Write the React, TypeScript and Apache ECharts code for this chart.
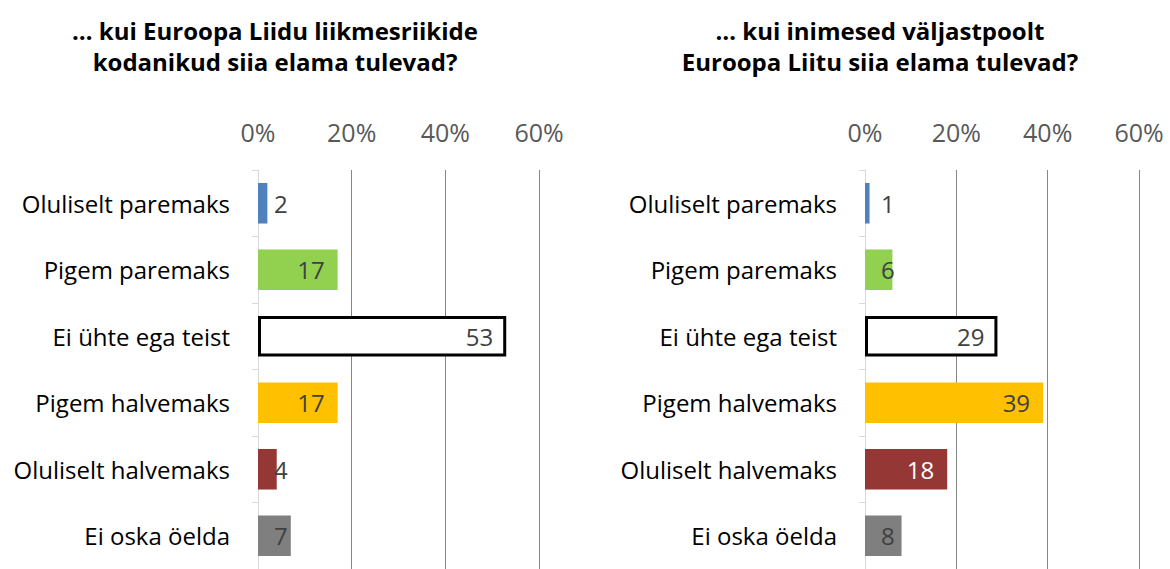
import React, { useEffect, useRef } from "react";
import * as echarts from "echarts";

const categories = [
  "Oluliselt paremaks",
  "Pigem paremaks",
  "Ei ühte ega teist",
  "Pigem halvemaks",
  "Oluliselt halvemaks",
  "Ei oska öelda",
];
const leftValues = [2, 17, 53, 17, 4, 7];
const rightValues = [1, 6, 29, 39, 18, 8];
const barColors = ["#4F81BD", "#92D050", "#FFFFFF", "#FFC000", "#953735", "#7F7F7F"];
const insideLabelColors = ["#404040", "#404040", "#404040", "#404040", "#FFFFFF", "#404040"];
const tickValues = [0, 20, 40, 60];
const leftTitle = "… kui Euroopa Liidu liikmesriikide\nkodanikud siia elama tulevad?";
const rightTitle = "… kui inimesed väljastpoolt\nEuroopa Liitu siia elama tulevad?";

const FONT = "'Open Sans', sans-serif";

function buildData(values: number[]) {
  return values.map((v, i) => {
    const small = v <= 8;
    const isWhite = barColors[i] === "#FFFFFF";
    return {
      value: v,
      itemStyle: {
        color: barColors[i],
        borderColor: isWhite ? "#000000" : barColors[i],
        borderWidth: isWhite ? 3 : 0,
      },
      label: {
        show: true,
        position: small ? "insideLeft" : "insideRight",
        distance: small ? 16 : 13,
        color: small ? "#404040" : insideLabelColors[i],
        fontSize: 24,
        fontFamily: FONT,
      },
    };
  });
}

export default function App() {
  const ref = useRef<HTMLDivElement>(null);
  useEffect(() => {
    document.body.style.margin = "0";
    if (!ref.current) return;
    const chart = echarts.init(ref.current, null, { renderer: "svg" });
    const xAxisCommon = (gridIndex: number) => ({
      type: "value" as const,
      gridIndex,
      position: "top" as const,
      min: 0,
      max: tickValues[tickValues.length - 1],
      interval: tickValues[1] - tickValues[0],
      axisLine: { show: false },
      axisTick: { show: false },
      axisLabel: {
        formatter: "{value}%",
        color: "#595959",
        fontSize: 25,
        fontFamily: FONT,
        margin: 26,
      },
      splitLine: {
        show: true,
        showMinLine: false,
        lineStyle: { color: "#868686", width: 1 },
      },
    });
    const yAxisCommon = (gridIndex: number) => ({
      type: "category" as const,
      gridIndex,
      data: categories,
      inverse: true,
      axisLine: { show: true, lineStyle: { color: "#D9D9D9", width: 1 } },
      axisTick: { show: true, length: 6, lineStyle: { color: "#D9D9D9" } },
      axisLabel: {
        color: "#000000",
        fontSize: 24,
        fontFamily: FONT,
        margin: 28,
      },
    });
    const titleStyle = { fontSize: 24, fontWeight: "bold", color: "#000000", fontFamily: FONT, lineHeight: 31 };
    chart.setOption({
      animation: false,
      backgroundColor: "#FFFFFF",
      title: [
        { text: leftTitle, left: 270, top: 10, textAlign: "center", textStyle: titleStyle },
        { text: rightTitle, left: 875, top: 10, textAlign: "center", textStyle: titleStyle },
      ],
      grid: [
        { left: 258, top: 170, width: 281, height: 403, containLabel: false },
        { left: 865, top: 170, width: 274, height: 403, containLabel: false },
      ],
      xAxis: [xAxisCommon(0), xAxisCommon(1)],
      yAxis: [yAxisCommon(0), yAxisCommon(1)],
      series: [
        { type: "bar", xAxisIndex: 0, yAxisIndex: 0, barCategoryGap: "39%", data: buildData(leftValues) },
        { type: "bar", xAxisIndex: 1, yAxisIndex: 1, barCategoryGap: "39%", data: buildData(rightValues) },
      ],
    });
    return () => chart.dispose();
  }, []);
  return <div ref={ref} style={{ position: "fixed", left: 0, top: 0, width: 1170, height: 569 }} />;
}
